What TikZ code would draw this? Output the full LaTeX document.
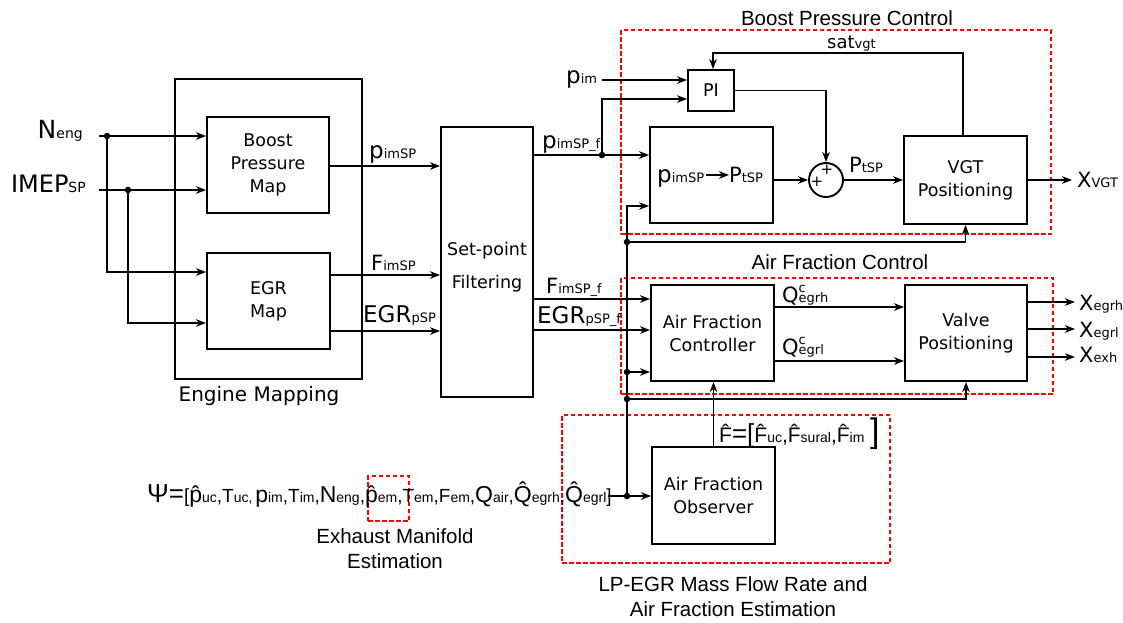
\documentclass[tikz,border=0pt]{standalone}
\usepackage{fontspec}
\setmainfont{DejaVu Sans}
\newfontfamily\ls{Liberation Sans}
\usetikzlibrary{arrows.meta}
\newcommand\sz[1]{\fontsize{#1}{#1}\selectfont}
\newcommand\sg[4][13]{{\sz{#2}#3}{\sz{#1}#4}}
\newcommand\hatc[2]{\ooalign{#1\cr\hidewidth\raisebox{#2}{\char"02C6}\hidewidth\cr}}
\newcommand\qc[1]{{\sz{21}Q}\rlap{\raisebox{10pt}{\sz{13}c}}{\sz{13}#1}}
\begin{document}
\begin{tikzpicture}[x=1pt,y=-1pt,
  blk/.style={draw, line width=1.9pt, inner sep=0pt, align=center, font=\fontsize{17.5}{23}\selectfont},
  grp/.style={draw=red, line width=1.3pt, dash pattern=on 4.5pt off 2.5pt, inner sep=0pt},
  sigl/.style={line width=1.8pt},
  arr/.style={sigl, -{Stealth[length=10pt,width=7.5pt,inset=3pt]}},
  dot/.style={circle, fill, inner sep=0pt, minimum size=6.5pt},
  lab/.style={inner sep=0pt, anchor=base west},
  ttl/.style={inner sep=0pt, align=center, font=\ls\fontsize{20.5}{25}\selectfont}]
\useasboundingbox (0,0) rectangle (1123,622);

% ---- groups
\node[blk, minimum width=187pt, minimum height=300pt] (em) at (268.5,229) {};
\node[inner sep=0pt, anchor=base, font=\fontsize{20}{20}\selectfont] (emt) at (259,401) {Engine Mapping};
\node[grp, minimum width=430pt, minimum height=204pt] (bpc) at (836,132) {};
\node[grp, minimum width=432pt, minimum height=116pt] (afcg) at (837,336) {};
\node[grp, minimum width=328pt, minimum height=148pt] (lp) at (726,489) {};
\node[grp, minimum width=41pt, minimum height=45pt] (emg) at (388.5,498.5) {};
\node[ttl, anchor=base] (bpct) at (847,25) {Boost Pressure Control};
\node[ttl, anchor=base] (afct) at (840,269) {Air Fraction Control};
\node[ttl] (emet) at (395,549) {Exhaust Manifold\\Estimation};
\node[ttl] (lpt) at (733,597) {LP-EGR Mass Flow Rate and\\Air Fraction Estimation};

% ---- blocks
\node[blk, minimum width=122pt, minimum height=96pt] (bpm) at (268,165) {\raisebox{-2pt}{Boost}\\\raisebox{-2pt}{Pressure}\\\raisebox{-2pt}{Map}};
\node[blk, minimum width=123pt, minimum height=96pt] (egr) at (268.5,301) {EGR\\Map};
\node[blk, minimum width=92pt, minimum height=270pt] (spf) at (487,262) {};
\node[inner sep=0pt, align=center, font=\fontsize{17.5}{33}\selectfont] (spft) at (487,267) {Set-point\\Filtering};
\node[blk, minimum width=46pt, minimum height=41pt] (pi) at (711,90.5) {PI};
\node[blk, minimum width=123pt, minimum height=96pt] (conv) at (711.5,175) {};
\node[blk, circle, minimum size=34pt] (sum) at (826,180) {};
\node[inner sep=0pt, font=\fontsize{15}{15}\selectfont] (pl1) at (817,182) {+};
\node[inner sep=0pt, font=\fontsize{15}{15}\selectfont] (pl2) at (827,170) {+};
\node[blk, minimum width=123pt, minimum height=88pt] (vgt) at (965.5,180) {VGT\\Positioning};
\node[blk, minimum width=123pt, minimum height=96pt] (ctrl) at (712.5,333) {Air Fraction\\Controller};
\node[blk, minimum width=122pt, minimum height=96pt] (valve) at (966,333) {Valve\\Positioning};
\node[blk, minimum width=123pt, minimum height=97pt] (obs) at (713.5,495.5) {Air Fraction\\Observer};

% ---- conv content
\node[lab] (c1) at (657,182) {\sg{23}{p}{imSP}};
\node[lab] (c2) at (729,182) {\sg{21}{P}{tSP}};
\coordinate (ca) at (0,175);
\draw[arr] (c1.east |- ca) ++(2,0) -- (c2.west |- ca);

% ---- labels
\node[inner sep=0pt, anchor=base east] (neng) at (83,138) {\sg[14]{25}{N}{eng}};
\node[inner sep=0pt, anchor=base east] (imep) at (86,192) {\sg[14]{24}{IMEP}{SP}};
\node[lab] (l1) at (369,158) {\sg{23}{p}{imSP}};
\node[lab] (l2) at (371,270) {\sg{21}{F}{imSP}};
\node[lab] (l3) at (363,322) {\sg{23}{EGR}{pSP}};
\node[lab] (l4) at (542,148) {\sg{23}{p}{imSP\_f}};
\node[lab] (l5) at (566,83) {\sg{23}{p}{im}};
\node[lab] (l6) at (827,48) {\sg{18}{sat}{vgt}};
\node[lab] (l7) at (849,172) {\sg{21}{P}{tSP}};
\node[lab] (l8) at (1077,187) {\sg{21}{X}{VGT}};
\node[lab] (l9) at (546,293) {\sg{21}{F}{imSP\_f}};
\node[lab] (l10) at (537,323) {\sg{23}{EGR}{pSP\_f}};
\node[lab] (l11) at (782,302) {\qc{egrh}};
\node[lab] (l12) at (782,354) {\qc{egrl}};
\node[lab] (l13) at (1079,310) {\sg{21}{X}{egrh}};
\node[lab] (l14) at (1079,337) {\sg{21}{X}{egrl}};
\node[lab] (l15) at (1079,362) {\sg{21}{X}{exh}};
\node[lab, font=\ls] (fhat) at (719,442) {{\sz{21}\hatc{F}{3pt}}{\sz{26}=[}{\sz{21}\hatc{F}{3pt}}{\sz{14}uc}{\sz{21},\hatc{F}{3pt}}{\sz{14}sural}{\sz{21},\hatc{F}{3pt}}{\sz{14}im}{\sz{34}\,]}};
\node[lab, font=\ls] (psi) at (147,502) {{\sz{26}Ψ=}{\sz{19}[}{\sz{23}\hatc{p}{0pt}}{\sz{14}uc}{\sz{19},T}{\sz{14}uc,} {\sz{23}p}{\sz{14}im}{\sz{19},T}{\sz{14}im}{\sz{19},}{\sz{23}N}{\sz{14}eng}{\sz{19},}{\sz{23}\hatc{p}{0pt}}{\sz{14}em}{\sz{19},T}{\sz{14}em}{\sz{19},F}{\sz{14}em}{\sz{19},}{\sz{23}Q}{\sz{14}air}{\sz{19},}{\sz{23}\hatc{Q}{4pt}}{\sz{14}egrh}{\sz{19},}{\sz{23}\hatc{Q}{4pt}}{\sz{14}egrl}{\sz{19}]}};

% ---- dots
\node[dot] (dn) at (107,136) {};
\node[dot] (di) at (128,190) {};
\node[dot] (dp) at (602,155) {};
\node[dot] (db1) at (627,242) {};
\node[dot] (db2) at (627,372) {};
\node[dot] (db3) at (627,399) {};
\node[dot] (db4) at (627,496) {};

% ---- coordinates
\coordinate (nin) at (99,136);
\coordinate (iin) at (99,190);
\coordinate (r272) at (0,272);
\coordinate (r323) at (0,323);
\coordinate (r166) at (0,166);
\coordinate (r275) at (0,275);
\coordinate (r331) at (0,331);
\coordinate (r155) at (0,155);
\coordinate (r99) at (0,99);
\coordinate (pin) at (602,80);
\coordinate (s1) at (963,53);
\coordinate (s2) at (713,53);
\coordinate (xv) at (1072,180);
\coordinate (r206) at (0,206);
\coordinate (r299) at (0,299);
\coordinate (r330) at (0,330);
\coordinate (r307) at (0,307);
\coordinate (r361) at (0,361);
\coordinate (o1) at (1075,302);
\coordinate (o2) at (1075,329);
\coordinate (o3) at (1075,357);
\coordinate (psiend) at (608,496);

% ---- connectors
\draw[arr] (nin) -- (nin -| bpm.west);
\draw[arr] (iin) -- (iin -| bpm.west);
\draw[arr] (dn.center) |- (r272 -| egr.west);
\draw[arr] (di.center) |- (r323 -| egr.west);
\draw[arr] (r166 -| bpm.east) -- (r166 -| spf.west);
\draw[arr] (r275 -| egr.east) -- (r275 -| spf.west);
\draw[arr] (r331 -| egr.east) -- (r331 -| spf.west);
\draw[arr] (r155 -| spf.east) -- (r155 -| conv.west);
\draw[arr] (dp.center) |- (r99 -| pi.west);
\draw[arr] (pin) -- (pin -| pi.west);
\draw[arr] (vgt.north -| s1) -- (s1) -- (s2) -- (s2 |- pi.north);
\draw[arr] (pi.east) -| (sum.north);
\draw[arr] (conv.east |- sum.west) -- (sum.west);
\draw[arr] (sum.east) -- (sum.east -| vgt.west);
\draw[arr] (vgt.east |- xv) -- (xv);
\draw[arr] (db4.center) -- (db4.center |- r206) -- (r206 -| conv.west);
\draw[arr] (db1.center) -| (vgt.south);
\draw[arr] (db2.center) -- (db2.center -| ctrl.west);
\draw[arr] (db3.center) -| (valve.south);
\draw[arr] (r299 -| spf.east) -- (r299 -| ctrl.west);
\draw[arr] (r330 -| spf.east) -- (r330 -| ctrl.west);
\draw[arr] (r307 -| ctrl.east) -- (r307 -| valve.west);
\draw[arr] (r361 -| ctrl.east) -- (r361 -| valve.west);
\draw[arr] (o1 -| valve.east) -- (o1);
\draw[arr] (o2 -| valve.east) -- (o2);
\draw[arr] (o3 -| valve.east) -- (o3);
\draw[arr] (psiend) -- (psiend -| obs.west);
\draw[arr] (obs.north) -- (obs.north |- ctrl.south);
\end{tikzpicture}
\end{document}
